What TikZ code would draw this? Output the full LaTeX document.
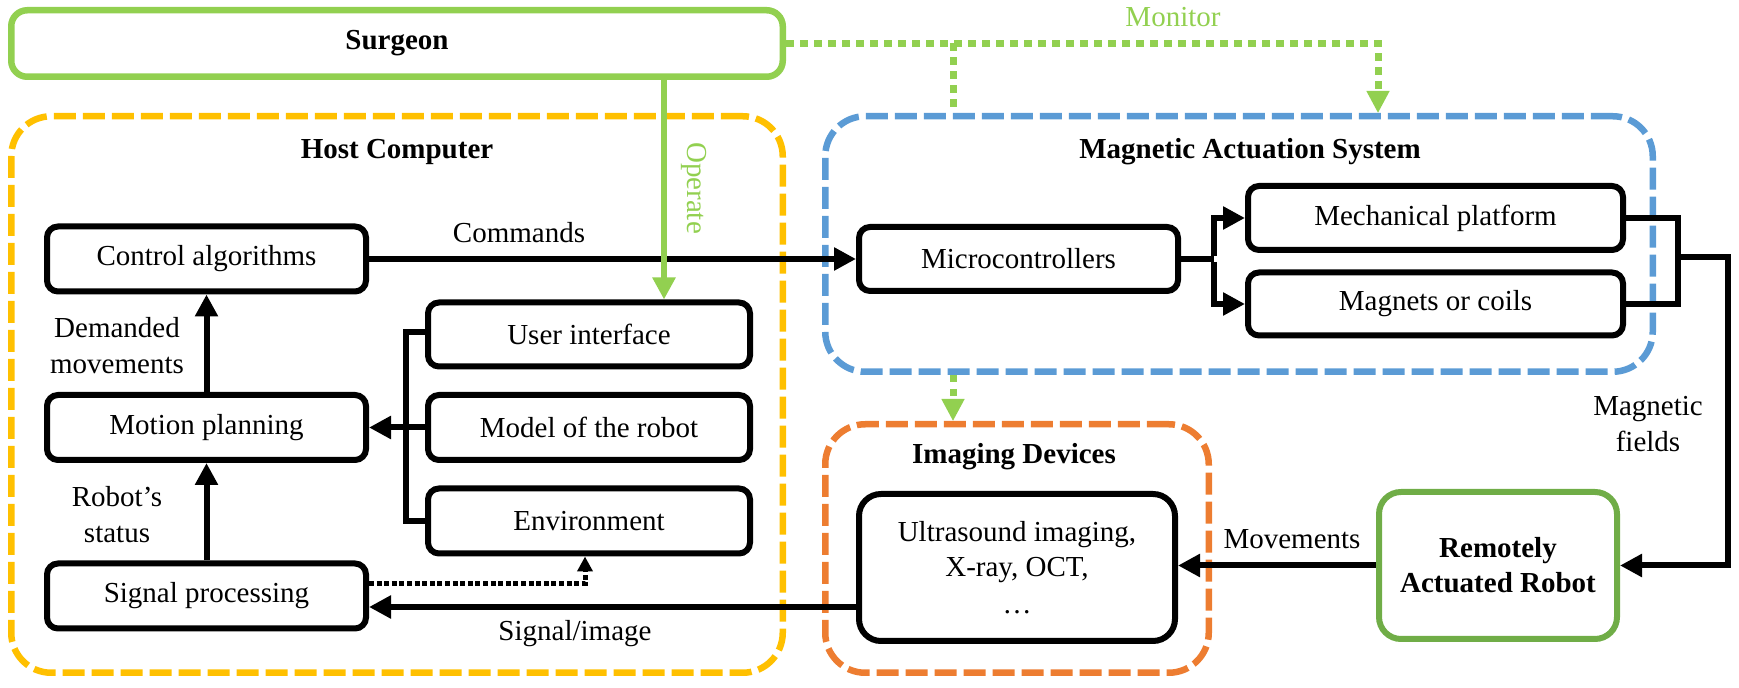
\documentclass[tikz,border=0pt]{standalone}
\usepackage{fontspec}
\setmainfont{Liberation Serif}
\usetikzlibrary{arrows.meta,calc}
\definecolor{sgreen}{HTML}{92D050}
\definecolor{rgreen}{HTML}{70AD47}
\definecolor{hyellow}{HTML}{FFC000}
\definecolor{mblue}{HTML}{5B9BD5}
\definecolor{iorange}{HTML}{ED7D31}
\begin{document}
\begin{tikzpicture}[x=0.5pt,y=-0.5pt,
  every node/.style={font=\fontsize{14.5}{18}\selectfont, align=center, inner sep=0pt},
  box/.style={draw=black, line width=3pt, rounded corners=5.5pt},
  group/.style={draw=#1, line width=3.25pt, rounded corners=20pt, dash pattern=on 11pt off 3.5pt},
  ttl/.style={font=\fontsize{14.5}{18}\selectfont\bfseries},
  line/.style={draw=black, line width=3pt},
  arr/.style={line, -{Triangle[length=11pt,width=11pt]}},
  garr/.style={draw=sgreen, line width=3pt, -{Triangle[length=11pt,width=11pt]}},
  gdot/.style={draw=sgreen, line width=3.5pt, dash pattern=on 3.75pt off 3.25pt},
  bdot/.style={draw=black, line width=2.5pt, dash pattern=on 2.5pt off 1.3pt},
]
\useasboundingbox (0,0) rectangle (1739,688);

% containers
\node[group=hyellow, minimum width=385.75pt, minimum height=278.25pt] (host) at (397,394.5) {};
\node[group=mblue, minimum width=413.75pt, minimum height=127.75pt] (mas) at (1239,244) {};
\node[group=iorange, minimum width=191.75pt, minimum height=124.25pt] (img) at (1017,548.5) {};
\node[ttl] (hostl) at (397,152) {Host Computer};
\node[ttl] (masl) at (1250,152) {Magnetic Actuation System};
\node[ttl] (imgl) at (1014,457) {Imaging Devices};

% surgeon
\node[draw=sgreen, line width=3.25pt, rounded corners=8pt, minimum width=385.75pt, minimum height=33.25pt, ttl] (surgeon) at (397,43.5) {Surgeon};

% host boxes
\node[box, minimum width=159.5pt, minimum height=32.5pt] (ctrl) at (206.5,259) {Control algorithms};
\node[box, minimum width=159.5pt, minimum height=32.5pt] (motion) at (206.5,427.5) {Motion planning};
\node[box, minimum width=159.5pt, minimum height=32.5pt] (signal) at (206.5,596) {Signal processing};
\node[box, minimum width=161pt, minimum height=32pt] (ui) at (589,334.5) {User interface};
\node[box, minimum width=161pt, minimum height=32.5pt] (model) at (589,427.5) {Model of the robot};
\node[box, minimum width=161pt, minimum height=32.5pt] (env) at (589,521) {Environment};

% MAS boxes
\node[box, minimum width=159.5pt, minimum height=32pt] (micro) at (1018.5,259) {Microcontrollers};
\node[box, minimum width=187.5pt, minimum height=32pt] (mech) at (1435.5,218) {Mechanical platform};
\node[box, minimum width=187.5pt, minimum height=31.5pt] (coils) at (1435.5,304) {Magnets or coils};

% imaging and robot
\node[box, rounded corners=11pt, minimum width=158pt, minimum height=73.5pt] (imgbox) at (1017,567.5) {Ultrasound imaging,\\[-0.5pt] X-ray, OCT,\\[0.5pt] …};
\node[draw=rgreen, line width=3pt, rounded corners=11pt, minimum width=119pt, minimum height=73.5pt, ttl] (robot) at (1498,565.5) {Remotely\\[-0.5pt] Actuated Robot};

% host connectors
\draw[arr] (ctrl.east) -- (micro.west);
\node (cmdl) at (519,233) {Commands};
\draw[arr] (motion.north) -- (ctrl.south);
\node (deml) at (117,346) {Demanded\\movements};
\draw[arr] (signal.north) -- (motion.south);
\node (rsl) at (117,514.5) {Robot’s\\status};
\draw[line] ([yshift=1pt]ui.west) -- ++(-19,0) |- (env.west);
\draw[arr] (model.west) -- (motion.east);
\coordinate (dA) at ([yshift=6pt]signal.east);
\draw[bdot] (dA) -| ([xshift=-2pt,yshift=-7.5pt]env.south);
\draw[black, -{Triangle[length=7.5pt,width=7.5pt]}, line width=2.5pt] ([xshift=-2pt,yshift=-7.5pt]env.south) -- ([xshift=-2pt]env.south);
\coordinate (sI) at ([yshift=-19.75pt]imgbox.west);
\draw[arr] (sI) -- (sI -| signal.east);
\node (sil) at (575,634) {Signal/image};

% operate
\coordinate (opS) at ([xshift=37.5pt]ui.north |- surgeon.south);
\draw[garr] (opS) -- ([xshift=37.5pt]ui.north);
\node[rotate=-90, text=sgreen] (opl) at (694,188) {Operate};

% monitor
\coordinate (mT) at ([xshift=69.5pt]mas.north);
\draw[gdot] (surgeon.east) -| ([yshift=11pt]mT);
\draw[draw=sgreen, line width=2.25pt, -{Triangle[length=11pt,width=11pt]}] ([yshift=11pt]mT) -- (mT);
\coordinate (mB) at ([xshift=-143pt]mas.north);
\draw[gdot] (mB |- surgeon.east) -- (mB);
\node[text=sgreen] (monl) at (1173,17) {Monitor};
\coordinate (mS) at ([xshift=-143pt]mas.south);
\draw[gdot] (mS) -- ([yshift=11pt]mS |- img.north);
\draw[draw=sgreen, line width=2.25pt, -{Triangle[length=11pt,width=11pt]}] ([yshift=11pt]mS |- img.north) -- (mS |- img.north);

% MAS connectors
\draw[line] (micro.east) -- ++(33,0) coordinate (sp);
\draw[arr] ([yshift=1.5pt]sp) |- (mech.west);
\draw[arr] ([yshift=-1.5pt]sp) |- (coils.west);
\draw[line] (mech.east) -- ++(52,0) coordinate (mj) |- (coils.east);
\coordinate (mm) at ($(mj)!0.45!(mj |- coils.east)$);
\draw[arr] (mm) -- ++(50,0) |- (robot.east);
\node (mfl) at (1648,424) {Magnetic\\fields};

% movements
\draw[arr] (robot.west) -- (robot.west -| imgbox.east);
\node (mvl) at (1292,539) {Movements};
\end{tikzpicture}
\end{document}
